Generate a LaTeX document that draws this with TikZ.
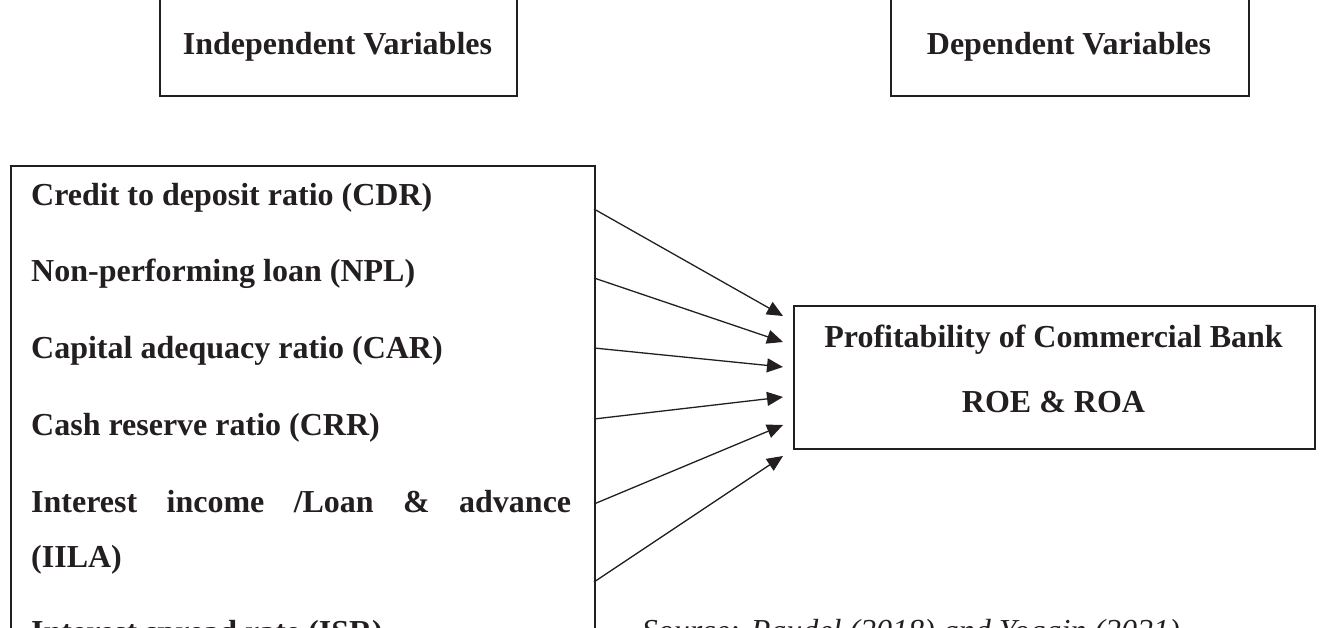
\documentclass[tikz,border=0pt]{standalone}
\usepackage{fontspec}
\setmainfont{Liberation Serif}
\usetikzlibrary{arrows.meta}
\definecolor{ink}{RGB}{35,31,32}
\begin{document}
\begin{tikzpicture}[x=1pt,y=-1pt,
  font=\fontsize{32}{38}\selectfont\bfseries,
  box/.style={draw=ink, line width=1.8pt, inner sep=0pt},
  lbl/.style={text=ink, inner sep=0pt},
  arr/.style={draw=ink, line width=1.3pt, -{Triangle[length=16pt,width=14pt]}}]
\useasboundingbox (0,0) rectangle (1320,628);
% header boxes
\node[box, minimum width=357pt, minimum height=140pt, anchor=south west] (indepbox) at (159,97) {};
\node[lbl, anchor=base] (indeptxt) at (337.5,55) {Independent Variables};
\node[box, minimum width=358pt, minimum height=140pt, anchor=south west] (depbox) at (890,97) {};
\node[lbl, anchor=base] (deptxt) at (1069,55) {Dependent Variables};
% left box
\node[box, minimum width=584pt, minimum height=600pt, anchor=north west] (leftbox) at (10,165) {};
\node[lbl, anchor=base west] (cdr) at (31,206) {Credit to deposit ratio (CDR)};
\node[lbl, anchor=base west] (npl) at (31,282) {Non-performing loan (NPL)};
\node[lbl, anchor=base west] (car) at (31,359) {Capital adequacy ratio (CAR)};
\node[lbl, anchor=base west] (crr) at (31,435) {Cash reserve ratio (CRR)};
\node[lbl, anchor=base west] (iila1) at (31,512) {\makebox[540pt][s]{Interest\hfill income\hfill /Loan\hfill \&\hfill advance}};
\node[lbl, anchor=base west] (iila2) at (31,567) {(IILA)};
\node[lbl, anchor=base west] (isr) at (31,642) {Interest spread rate (ISR)};
% right box
\node[box, minimum width=521pt, minimum height=143pt, anchor=north west] (rightbox) at (793,305) {};
\node[lbl, anchor=base] (proftxt) at (1053.5,348) {Profitability of Commercial Bank};
\node[lbl, anchor=base] (roetxt) at (1053.5,412) {ROE \& ROA};
% source
\node[lbl, anchor=base east, font=\fontsize{32}{38}\selectfont\itshape] (src) at (1180,641) {Source: Paudel (2018) and Yogain (2021)};
% arrows
\coordinate (s1) at (594,209);
\coordinate (s2) at (594,278);
\coordinate (s3) at (594,348);
\coordinate (s4) at (594,419);
\coordinate (s5) at (594,504);
\coordinate (s6) at (594,582);
\coordinate (t1) at (783,316);
\coordinate (t2) at (783,342);
\coordinate (t3) at (783,367);
\coordinate (t4) at (783,397);
\coordinate (t5) at (783,425);
\coordinate (t6) at (783,456);
\foreach \i in {1,...,6} \draw[arr] (s\i) -- (t\i);
\end{tikzpicture}
\end{document}
